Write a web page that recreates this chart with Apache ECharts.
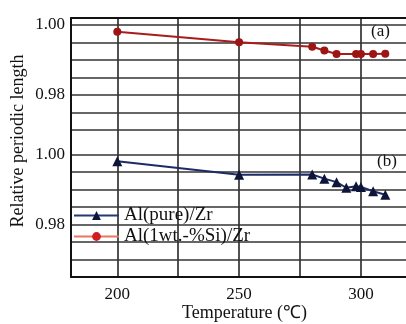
<!DOCTYPE html>
<html>
<head>
    <meta charset="utf-8">
    <title>Relative periodic length</title>
    <script src="https://cdn.jsdelivr.net/npm/echarts@6.0.0/dist/echarts.min.js"></script>
    <style>
        body, html { margin: 0; padding: 0; background: #fff; }
        #main { width: 406px; height: 324px; }
    </style>
</head>
<body>
    <div id="main"></div>
    <script>
        // data
        var seriesNames = ['Al(pure)/Zr', 'Al(1wt.-%Si)/Zr'];

        var pureTemp = [200, 250, 280, 285, 290, 294, 298, 300, 305, 310];
        var pureLen  = [0.9981, 0.9942, 0.9943, 0.9931, 0.9921, 0.9905, 0.9909, 0.9907, 0.9895, 0.9885];

        var siTemp = [200, 250, 280, 285, 290, 298, 300, 305, 310];
        var siLen  = [0.9981, 0.9951, 0.9938, 0.9927, 0.9917, 0.9917, 0.9917, 0.9917, 0.9918];

        var xGridValues = [200, 225, 250, 275, 300];
        var xLabelValues = [200, 250, 300];
        var yGridTop = [0.97, 0.975, 0.98, 0.985, 0.99, 0.995, 1.0];
        var yGridBottom = [0.965, 0.97, 0.975, 0.98, 0.985, 0.99, 0.995, 1.0];
        var yLabelValues = [0.98, 1.0];

        function zip(xs, ys) {
            return xs.map(function (x, i) { return [x, ys[i]]; });
        }

        var font = 'Liberation Serif';
        var gridLine = { color: '#333', width: 1.7 };
        var axisLine = { show: true, lineStyle: { color: '#111', width: 2 } };

        var chart = echarts.init(document.getElementById('main'));

        var xBase = {
            type: 'value',
            min: 181,
            max: 318.5,
            axisTick: { show: false, customValues: xGridValues },
            splitLine: { show: true, lineStyle: gridLine }
        };

        var option = {
            animation: false,
            backgroundColor: '#fff',
            grid: [
                { left: 71, right: 0, top: 18, height: 112 },
                { left: 71, right: 0, top: 130, bottom: 47 }
            ],
            xAxis: [
                Object.assign({}, xBase, {
                    gridIndex: 0,
                    position: 'top',
                    axisLine: axisLine,
                    axisLabel: { show: false }
                }),
                Object.assign({}, xBase, {
                    gridIndex: 1,
                    axisLine: axisLine,
                    axisLabel: {
                        customValues: xLabelValues,
                        margin: 9,
                        color: '#111',
                        fontFamily: font,
                        fontSize: 17
                    },
                    name: 'Temperature (℃)',
                    nameLocation: 'middle',
                    nameGap: 27,
                    nameTextStyle: { color: '#111', fontFamily: font, fontSize: 18, padding: [0, 0, 0, 12] }
                })
            ],
            yAxis: [
                {
                    gridIndex: 0,
                    type: 'value',
                    min: 0.97,
                    max: 1.002,
                    axisLine: axisLine,
                    axisTick: { show: false, customValues: yGridTop },
                    splitLine: { show: true, lineStyle: gridLine },
                    axisLabel: {
                        customValues: yLabelValues,
                        margin: 6,
                        color: '#111',
                        fontFamily: font,
                        fontSize: 17,
                        formatter: function (v) { return v.toFixed(2); }
                    }
                },
                {
                    gridIndex: 1,
                    type: 'value',
                    min: 0.965,
                    max: 1.007,
                    axisLine: axisLine,
                    axisTick: { show: false, customValues: yGridBottom },
                    splitLine: { show: true, lineStyle: gridLine },
                    axisLabel: {
                        customValues: yLabelValues,
                        margin: 6,
                        color: '#111',
                        fontFamily: font,
                        fontSize: 17,
                        formatter: function (v) { return v.toFixed(2); }
                    }
                }
            ],
            legend: {
                orient: 'vertical',
                left: 73,
                top: 206,
                padding: 0,
                itemWidth: 45,
                itemHeight: 11,
                itemGap: 2,
                textStyle: { color: '#111', fontFamily: font, fontSize: 19 },
                data: [
                    { name: seriesNames[0], itemStyle: { color: '#0d1538' }, lineStyle: { color: '#22397a' } },
                    { name: seriesNames[1], itemStyle: { color: '#d01e1e' }, lineStyle: { color: '#e4795c' } }
                ]
            },
            graphic: [
                { type: 'text', left: 371, top: 23, style: { text: '(a)', font: '17px "Liberation Serif"', fill: '#111' } },
                { type: 'text', left: 377, top: 153, style: { text: '(b)', font: '17px "Liberation Serif"', fill: '#111' } },
                {
                    type: 'text', x: 18, y: 141, rotation: Math.PI / 2,
                    style: { text: 'Relative periodic length', font: '18px "Liberation Serif"', fill: '#111', align: 'center', verticalAlign: 'middle' }
                }
            ],
            series: [
                {
                    name: seriesNames[0],
                    type: 'line',
                    xAxisIndex: 1,
                    yAxisIndex: 1,
                    symbol: 'triangle',
                    symbolSize: 10,
                    lineStyle: { color: '#1d2b66', width: 2 },
                    itemStyle: { color: '#0d1538' },
                    data: zip(pureTemp, pureLen)
                },
                {
                    name: seriesNames[1],
                    type: 'line',
                    xAxisIndex: 0,
                    yAxisIndex: 0,
                    symbol: 'circle',
                    symbolSize: 8,
                    lineStyle: { color: '#a81c1c', width: 2 },
                    itemStyle: { color: '#9c1414' },
                    data: zip(siTemp, siLen)
                }
            ]
        };

        chart.setOption(option);

        window.addEventListener('resize', function () {
            chart.resize();
        });
    </script>
</body>
</html>
